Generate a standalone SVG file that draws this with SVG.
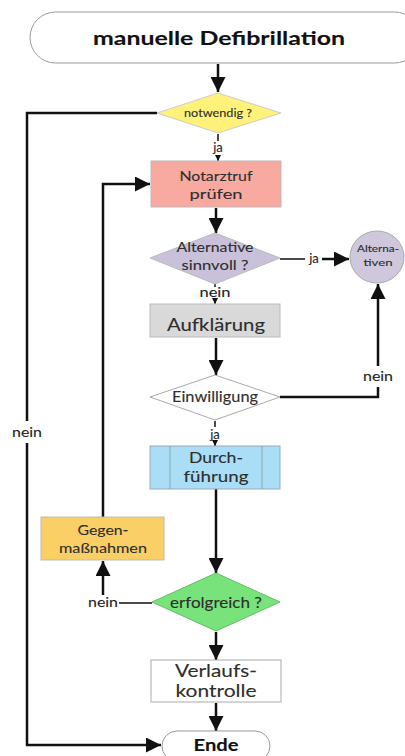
<svg xmlns="http://www.w3.org/2000/svg" width="405" height="756" viewBox="0 0 405 756">
<defs>
<style>
text{font-family:Lato,"Open Sans","Liberation Sans",sans-serif;fill:#2e2e2e;text-anchor:middle;stroke:#2e2e2e;stroke-width:0.12}
.c{fill:none;stroke:#111;stroke-width:2.5}
.t{fill:none;stroke:#111;stroke-width:1.5}
.lbl{font-size:13px;fill:#222}
.b{fill:#111;stroke:#111;font-weight:bold}
</style>
<marker id="ah" viewBox="0 0 10 10" refX="10" refY="5" markerWidth="6" markerHeight="6" orient="auto-start-reverse" markerUnits="strokeWidth"><path d="M0,0 L10,5 L0,10 z" fill="#111"/></marker>
<marker id="sa" viewBox="0 0 10 10" refX="10" refY="5" markerWidth="4" markerHeight="4" orient="auto" markerUnits="strokeWidth"><path d="M0,0 L10,5 L0,10 z" fill="#111"/></marker>
</defs>
<rect width="405" height="756" fill="#fff"/>
<g id="connectors">
<path class="c" d="M218,64 V92" marker-end="url(#ah)"/>
<path class="c" d="M157,113 H27 V421"/>
<path class="c" d="M27,443 V745 H161" marker-end="url(#ah)"/>
<path class="t" d="M218,134 V141"/>
<path class="t" d="M218,155 V161" marker-end="url(#sa)"/>
<path class="c" d="M103,517 V184 H150" marker-end="url(#ah)"/>
<path class="c" d="M216,208 V233" marker-end="url(#ah)"/>
<path class="t" d="M280,259 H305"/>
<path class="c" d="M322,259 H349" marker-end="url(#ah)"/>
<path class="t" d="M215,284 V287"/>
<path class="t" d="M215,299 V304" marker-end="url(#sa)"/>
<path class="c" d="M216,338 V375" marker-end="url(#ah)"/>
<path class="c" d="M280,397 H378 V387"/>
<path class="c" d="M378,366 V284" marker-end="url(#ah)"/>
<path class="t" d="M215,421 V427"/>
<path class="t" d="M215,441 V446" marker-end="url(#sa)"/>
<path class="c" d="M216,489 V573" marker-end="url(#ah)"/>
<path class="t" d="M152,603 H119"/>
<path class="c" d="M103,595 V561" marker-end="url(#ah)"/>
<path class="c" d="M216,632 V660" marker-end="url(#ah)"/>
<path class="c" d="M216,703 V731" marker-end="url(#ah)"/>
</g>
<g id="start">
<rect x="30" y="12" width="390" height="51" rx="25.5" fill="#fff" stroke="#999" stroke-width="1"/>
<text class="b" x="219" y="45" font-size="19.5" textLength="252" lengthAdjust="spacingAndGlyphs">manuelle Defibrillation</text>
</g>
<g id="notwendig">
<polygon points="218,93 281,113 218,133 157,113" fill="#FFF27A" stroke="#ccc" stroke-width="1"/>
<text x="218" y="117" font-size="11.5" textLength="68" lengthAdjust="spacingAndGlyphs">notwendig ?</text>
</g>
<text class="lbl" x="218" y="152">ja</text>
<g id="notarztruf">
<rect x="151" y="161" width="130" height="46" fill="#F8A9A0" stroke="#bbb" stroke-width="1"/>
<text x="216" y="181" font-size="14" textLength="73" lengthAdjust="spacingAndGlyphs">Notarztruf</text>
<text x="216" y="199" font-size="14" textLength="53" lengthAdjust="spacingAndGlyphs">prüfen</text>
</g>
<g id="alternative">
<polygon points="215,233 280,258 215,284 150,258" fill="#C9C1DA" stroke="#bbb" stroke-width="1"/>
<text x="215" y="252" font-size="14" textLength="77" lengthAdjust="spacingAndGlyphs">Alternative</text>
<text x="215" y="270" font-size="14" textLength="67" lengthAdjust="spacingAndGlyphs">sinnvoll ?</text>
</g>
<text class="lbl" x="314" y="263">ja</text>
<g id="alternativen">
<ellipse cx="377" cy="257" rx="27" ry="26" fill="#CFC8DC" stroke="#aaa" stroke-width="1"/>
<text x="378" y="252" font-size="9" textLength="42" lengthAdjust="spacingAndGlyphs">Alterna-</text>
<text x="378" y="266" font-size="9" textLength="29" lengthAdjust="spacingAndGlyphs">tiven</text>
</g>
<text class="lbl" x="215" y="297" textLength="31" lengthAdjust="spacingAndGlyphs">nein</text>
<g id="aufklaerung">
<rect x="150" y="304" width="130" height="33" fill="#D9D9D9" stroke="#bbb" stroke-width="1"/>
<text x="216" y="331" font-size="18" textLength="98" lengthAdjust="spacingAndGlyphs">Aufklärung</text>
</g>
<g id="einwilligung">
<polygon points="215,375 280,397 215,420 150,397" fill="#fff" stroke="#aaa" stroke-width="1"/>
<text x="215" y="402" font-size="14.5" textLength="86" lengthAdjust="spacingAndGlyphs">Einwilligung</text>
</g>
<text class="lbl" x="378" y="381" textLength="30" lengthAdjust="spacingAndGlyphs">nein</text>
<text class="lbl" x="27" y="437" textLength="30" lengthAdjust="spacingAndGlyphs">nein</text>
<text class="lbl" x="215" y="439">ja</text>
<g id="durchfuehrung">
<rect x="150" y="446" width="130" height="43" fill="#A9DEF6" stroke="#9ab" stroke-width="1"/>
<line x1="170" y1="446" x2="170" y2="489" stroke="#8aa" stroke-width="1"/>
<line x1="262" y1="446" x2="262" y2="489" stroke="#8aa" stroke-width="1"/>
<text x="216" y="463" font-size="15" textLength="54" lengthAdjust="spacingAndGlyphs">Durch-</text>
<text x="216" y="482" font-size="15" textLength="65" lengthAdjust="spacingAndGlyphs">führung</text>
</g>
<g id="gegenmassnahmen">
<rect x="41" y="517" width="123" height="43" fill="#F9CF66" stroke="#bbb" stroke-width="1"/>
<text x="103" y="535" font-size="14" textLength="51" lengthAdjust="spacingAndGlyphs">Gegen-</text>
<text x="103" y="553" font-size="14" textLength="88" lengthAdjust="spacingAndGlyphs">maßnahmen</text>
</g>
<text class="lbl" x="103" y="607" textLength="30" lengthAdjust="spacingAndGlyphs">nein</text>
<g id="erfolgreich">
<polygon points="216,573 280,602 216,631 152,602" fill="#77E37A" stroke="#6b6" stroke-width="1"/>
<text x="216" y="608" font-size="15" textLength="92" lengthAdjust="spacingAndGlyphs">erfolgreich ?</text>
</g>
<g id="verlaufskontrolle">
<rect x="151" y="660" width="130" height="42" fill="#fff" stroke="#aaa" stroke-width="1"/>
<text x="216" y="677" font-size="17" textLength="82" lengthAdjust="spacingAndGlyphs">Verlaufs-</text>
<text x="216" y="697" font-size="17" textLength="81" lengthAdjust="spacingAndGlyphs">kontrolle</text>
</g>
<g id="ende">
<rect x="162" y="731" width="108" height="30" rx="15" fill="#fff" stroke="#999" stroke-width="1"/>
<text class="b" x="216" y="751" font-size="17" textLength="45" lengthAdjust="spacingAndGlyphs">Ende</text>
</g>
</svg>
